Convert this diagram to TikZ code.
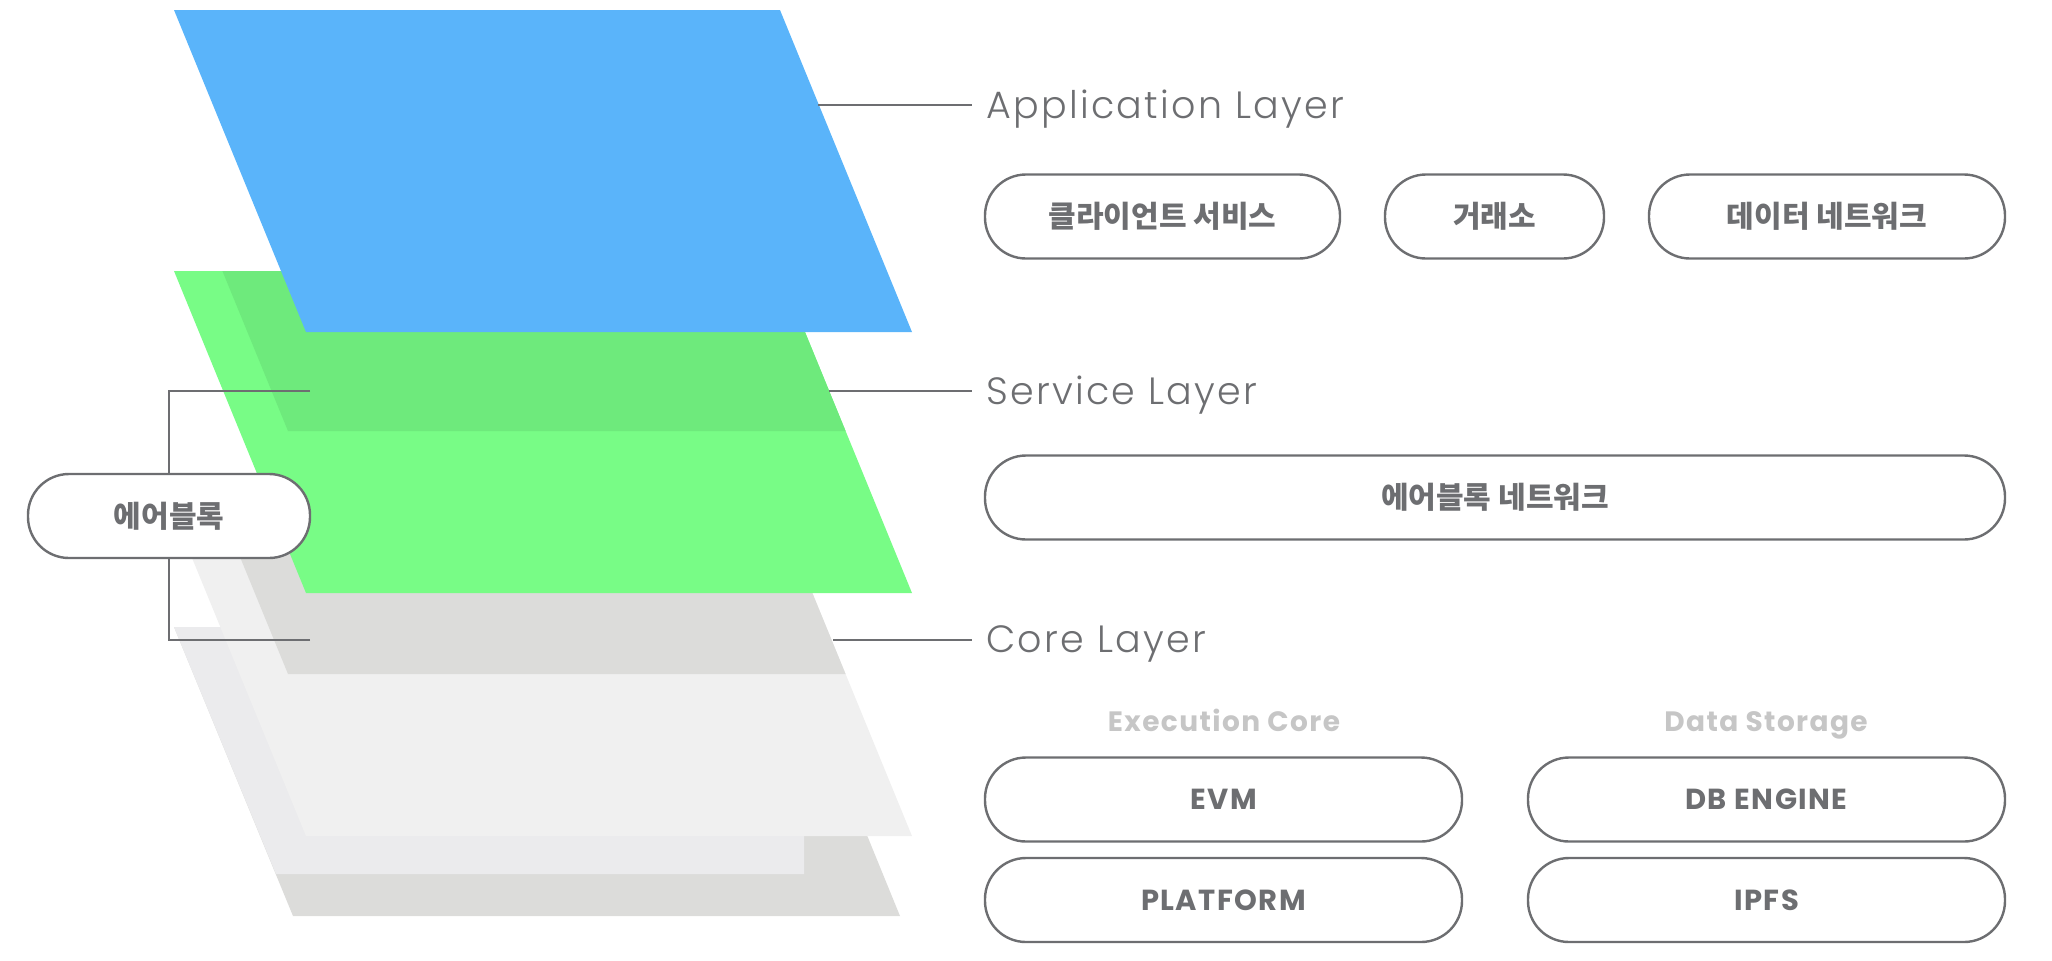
\documentclass[tikz,border=0pt]{standalone}
\usepackage{fontspec}
\setmainfont{Poppins}
\IfFontExistsTF{Poppins Light}{\newfontfamily\thinfont{Poppins Light}[LetterSpace=6]}{\newfontfamily\thinfont{Poppins}[LetterSpace=6]}
\newfontfamily\widefont{Poppins}[LetterSpace=5]
\newfontfamily\krfont{Noto Sans CJK KR}
\usepackage{tikz}

\definecolor{appblue}{HTML}{5AB4FA}
\definecolor{svcgreen}{HTML}{78FC86}
\definecolor{svcshade}{HTML}{6EEA7C}
\definecolor{corelight}{HTML}{F0F0F0}
\definecolor{coreshade}{HTML}{DCDCDA}
\definecolor{basegray}{HTML}{EBEBED}
\definecolor{linegray}{HTML}{6D6E71}
\definecolor{captiongray}{HTML}{C6C6C6}

\tikzset{
  link/.style={draw=linegray, line width=1.2pt},
  pill/.style={draw=linegray, line width=1.2pt, fill=white, rounded corners=20.5pt,
    minimum height=42pt, inner sep=0pt, text=linegray,
    font=\krfont\bfseries\fontsize{15}{17}\selectfont},
  latinpill/.style={font=\widefont\bfseries\fontsize{14.5}{16}\selectfont},
  layerlabel/.style={anchor=west, inner xsep=7pt, inner ysep=0pt, text=linegray,
    font=\thinfont\fontsize{19}{21}\selectfont},
  caption/.style={inner sep=0pt, text height=10pt, text depth=3pt, text=captiongray,
    font=\widefont\bfseries\fontsize{14}{16}\selectfont}
}

\begin{document}
\begin{tikzpicture}[x=0.5pt,y=-0.5pt]
\useasboundingbox (0,0) rectangle (2052,960);

\fill[coreshade] (174,627) -- (782,627) -- (900,916) -- (293,916) -- cycle;
\fill[basegray] (174,627) -- (804,627) -- (804,874) -- (276,874) -- cycle;
\fill[corelight] (174,514) -- (780,514) -- (912,836) -- (306,836) -- cycle;
\begin{scope}
\clip (174,514) -- (780,514) -- (912,836) -- (306,836) -- cycle;
\fill[coreshade] (156,352) -- (762,352) -- (894,674) -- (288,674) -- cycle;
\end{scope}
\fill[svcgreen] (174,271) -- (780,271) -- (912,593) -- (306,593) -- cycle;
\begin{scope}
\clip (174,271) -- (780,271) -- (912,593) -- (306,593) -- cycle;
\fill[svcshade] (156,109) -- (762,109) -- (894,431) -- (288,431) -- cycle;
\end{scope}
\fill[appblue] (174,10) -- (780,10) -- (912,332) -- (306,332) -- cycle;

\coordinate (appedge) at (818,105);
\coordinate (svcedge) at (829,391);
\coordinate (coreedge) at (833,640);
\node[layerlabel] (applabel) at (972,109) {Application Layer};
\node[layerlabel] (svclabel) at (972,395) {Service Layer};
\node[layerlabel] (corelabel) at (972,644) {Core Layer};
\draw[link] (appedge) -- (appedge -| applabel.west);
\draw[link] (svcedge) -- (svcedge -| svclabel.west);
\draw[link] (coreedge) -- (coreedge -| corelabel.west);

\node[pill, minimum width=141pt] (airblock) at (169,516) {에어블록};
\coordinate (svctick) at (310,391);
\coordinate (coretick) at (310,640);
\draw[link] (svctick) -| (airblock.north);
\draw[link] (coretick) -| (airblock.south);

\node[pill, minimum width=177.5pt] (client) at (1162.5,216.5) {클라이언트 서비스};
\node[pill, minimum width=109.5pt] (exchange) at (1494.5,216.5) {거래소};
\node[pill, minimum width=178pt] (datanet) at (1827,216.5) {데이터 네트워크};

\node[pill, minimum width=510pt] (airnet) at (1495,497.5) {에어블록 네트워크};

\node[caption] (execcap) at (1224,724) {Execution Core};
\node[caption] (storecap) at (1766,724) {Data Storage};

\node[pill, latinpill, minimum width=238.5pt] (evm) at (1223.5,799.5) {EVM};
\node[pill, latinpill, minimum width=238.5pt] (dbengine) at (1766.5,799.5) {DB ENGINE};
\node[pill, latinpill, minimum width=238.5pt] (platform) at (1223.5,900) {PLATFORM};
\node[pill, latinpill, minimum width=238.5pt] (ipfs) at (1766.5,900) {IPFS};

\end{tikzpicture}
\end{document}
